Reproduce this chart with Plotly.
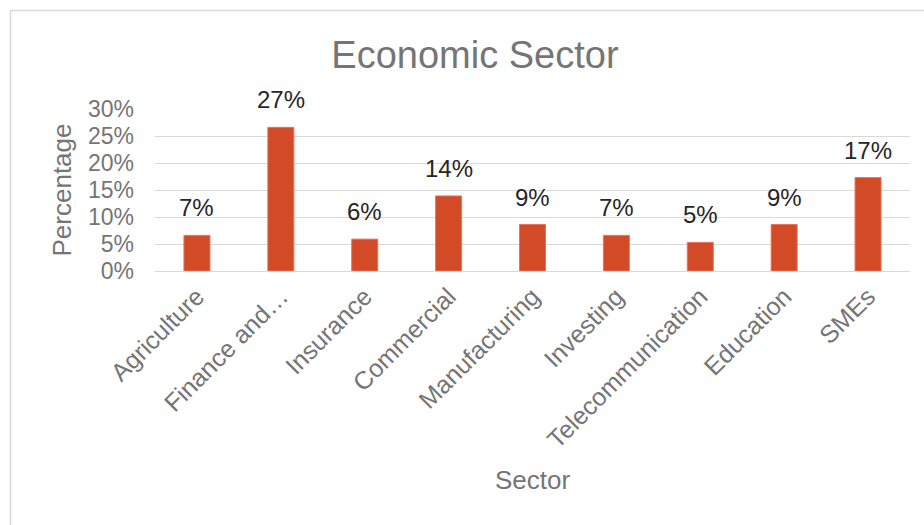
import plotly.graph_objects as go

# Share of respondents by economic sector
sectors = ["Agriculture", "Finance and\u2026", "Insurance", "Commercial", "Manufacturing",
           "Investing", "Telecommunication", "Education", "SMEs"]
shares = [0.066, 0.266, 0.059, 0.139, 0.086, 0.066, 0.053, 0.086, 0.173]
y_ticks = [0, 0.05, 0.10, 0.15, 0.20, 0.25, 0.30]

FONT = "Liberation Sans, Arial, sans-serif"
GRAY = "#757575"

fig = go.Figure(
    go.Bar(
        x=sectors,
        y=shares,
        marker=dict(color="#D24A26", line=dict(color="#E8735A", width=1)),
        cliponaxis=False,
        hovertemplate="%{x}: %{y:.1%}<extra></extra>",
    )
)

# value labels above each bar
labels = [
    dict(
        x=s, y=v, xref="x", yref="y",
        text=f"{v:.0%}",
        showarrow=False,
        yanchor="bottom",
        yshift=12,
        font=dict(family=FONT, size=24, color="#262626"),
    )
    for s, v in zip(sectors, shares)
]

fig.update_layout(
    width=924,
    height=525,
    paper_bgcolor="white",
    plot_bgcolor="white",
    margin=dict(l=155, r=14, t=109, b=254),
    bargap=0.69,
    showlegend=False,
    font=dict(family=FONT, color=GRAY),
    title=dict(
        text="Economic Sector",
        x=0.514,
        xanchor="center",
        y=0.895,
        yanchor="middle",
        font=dict(family=FONT, size=38, color=GRAY),
    ),
    xaxis=dict(
        tickangle=-45,
        tickfont=dict(family=FONT, size=25, color=GRAY),
        showgrid=False,
        showline=True,
        linecolor="#D9D9D9",
        linewidth=1,
        ticks="",
        title=dict(text="Sector", font=dict(family=FONT, size=26, color=GRAY), standoff=18),
    ),
    yaxis=dict(
        range=[0, 0.30],
        tickvals=y_ticks,
        tickformat=".0%",
        tickfont=dict(family=FONT, size=23, color=GRAY),
        ticklabelstandoff=20,
        showgrid=True,
        gridcolor="#D9D9D9",
        gridwidth=1,
        zeroline=False,
        ticks="",
        title=dict(text="Percentage", font=dict(family=FONT, size=26, color=GRAY), standoff=8),
    ),
    annotations=labels,
    shapes=[
        dict(
            type="rect", xref="paper", yref="paper",
            x0=-0.1914, x1=1.1, y0=-2.0, y1=1.608,
            line=dict(color="#D9D9D9", width=1.5),
            fillcolor="rgba(0,0,0,0)",
            layer="below",
        )
    ],
)

fig.write_html("out.html")
